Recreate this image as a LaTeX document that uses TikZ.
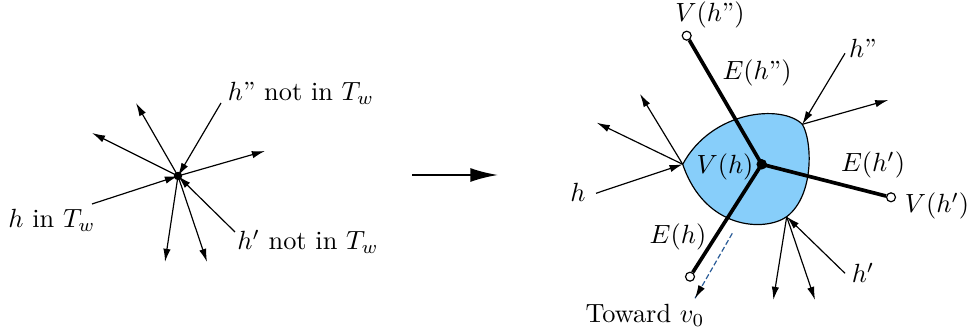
\documentclass[tikz,border=0pt]{standalone}
\usetikzlibrary{arrows.meta,calc}
\definecolor{blobblue}{RGB}{135,206,250}
\definecolor{dashblue}{RGB}{40,90,150}
\begin{document}
\begin{tikzpicture}[x=0.38pt,y=-0.38pt,
  arr/.style={line width=0.45pt,-{Latex[length=5pt,width=2.8pt]}},
  bigarr/.style={line width=0.8pt,-{Latex[length=10.5pt,width=5.3pt]}},
  thk/.style={line width=1.4pt},
  vtx/.style={circle,draw,fill=white,inner sep=0pt,minimum size=3.4pt,line width=0.45pt},
  dot/.style={circle,fill,inner sep=0pt,minimum size=3.2pt},
  lbl/.style={inner sep=1pt}]
\useasboundingbox (0,0) rectangle (972,336);
% ---------- left picture ----------
\node[dot] (c) at (178,176) {};
\coordinate (lo1) at (136,103);
\coordinate (lo2) at (92,133);
\coordinate (lo3) at (265,151);
\coordinate (lo4) at (165,262);
\coordinate (lo5) at (207,262);
\coordinate (li1) at (221,103);
\coordinate (li2) at (92,204);
\coordinate (li3) at (235,232);
\foreach \p in {lo1,lo2,lo3,lo4,lo5} \draw[arr] (c.center) -- (\p);
\foreach \p in {li1,li2,li3} \draw[arr] (\p) -- (c.center);
\node[lbl] (t1) at (301,93) {$h$'' not in $T_w$};
\node[lbl] (t2) at (52,220) {$h$ in $T_w$};
\node[lbl] (t3) at (308,242) {$h'$ not in $T_w$};
% ---------- big arrow ----------
\coordinate (a1) at (412,175);
\coordinate (a2) at (498,175);
\draw[bigarr] (a1) -- (a2);
% ---------- right picture ----------
\coordinate (L) at (682.7,164.3);
\coordinate (TR) at (802.3,124.3);
\coordinate (BR) at (786.7,216.7);
\filldraw[fill=blobblue,draw=black,line width=0.45pt]
  (L) .. controls (712,110) and (782,104) .. (TR)
      .. controls (812,140) and (815,195) .. (BR)
      .. controls (765,232) and (705,230) .. (L) -- cycle;
\node[dot,minimum size=4pt] (r) at (761.7,164.3) {};
\node[vtx] (v1) at (686.7,35.7) {};
\node[vtx] (v2) at (891,197.3) {};
\node[vtx] (v3) at (690,276.7) {};
\draw[thk] (r.center) -- (v1);
\draw[thk] (r.center) -- (v2);
\draw[thk] (r.center) -- (v3);
% thin arrows
\coordinate (h1) at (596,193.3);
\coordinate (o1) at (596.7,122.7);
\coordinate (o2) at (640,94);
\coordinate (h2) at (845,53.3);
\coordinate (o3) at (888.3,100);
\coordinate (h3) at (845,273.3);
\coordinate (o4) at (773.3,300);
\coordinate (o5) at (815,300);
\draw[arr] (h1) -- (L);
\draw[arr] (L) -- (o1);
\draw[arr] (L) -- (o2);
\draw[arr] (h2) -- (TR);
\draw[arr] (TR) -- (o3);
\draw[arr] (h3) -- (BR);
\draw[arr] (BR) -- (o4);
\draw[arr] (BR) -- (o5);
% dashed toward v0
\coordinate (d1) at (732.3,233.3);
\coordinate (d2) at (695,298.3);
\draw[dashblue,line width=0.45pt,dash pattern=on 2pt off 1pt] (d1) -- (d2);
\draw[arr] ($(d2)!5pt!(d1)$) -- (d2);
% labels
\node[lbl] (l1) at (710,15) {$V(h\mbox{''})$};
\node[lbl] (l2) at (757,73) {$E(h\mbox{''})$};
\node[lbl] (l3) at (863,48) {$h$''};
\node[lbl] (l4) at (725,167) {$V(h)$};
\node[lbl] (l5) at (873,165) {$E(h')$};
\node[lbl] (l6) at (937,206) {$V(h')$};
\node[lbl] (l7) at (578,192) {$h$};
\node[lbl] (l8) at (678,237) {$E(h)$};
\node[lbl] (l9) at (863,273) {$h'$};
\node[lbl] (l10) at (645,315) {Toward $v_0$};
\end{tikzpicture}
\end{document}
